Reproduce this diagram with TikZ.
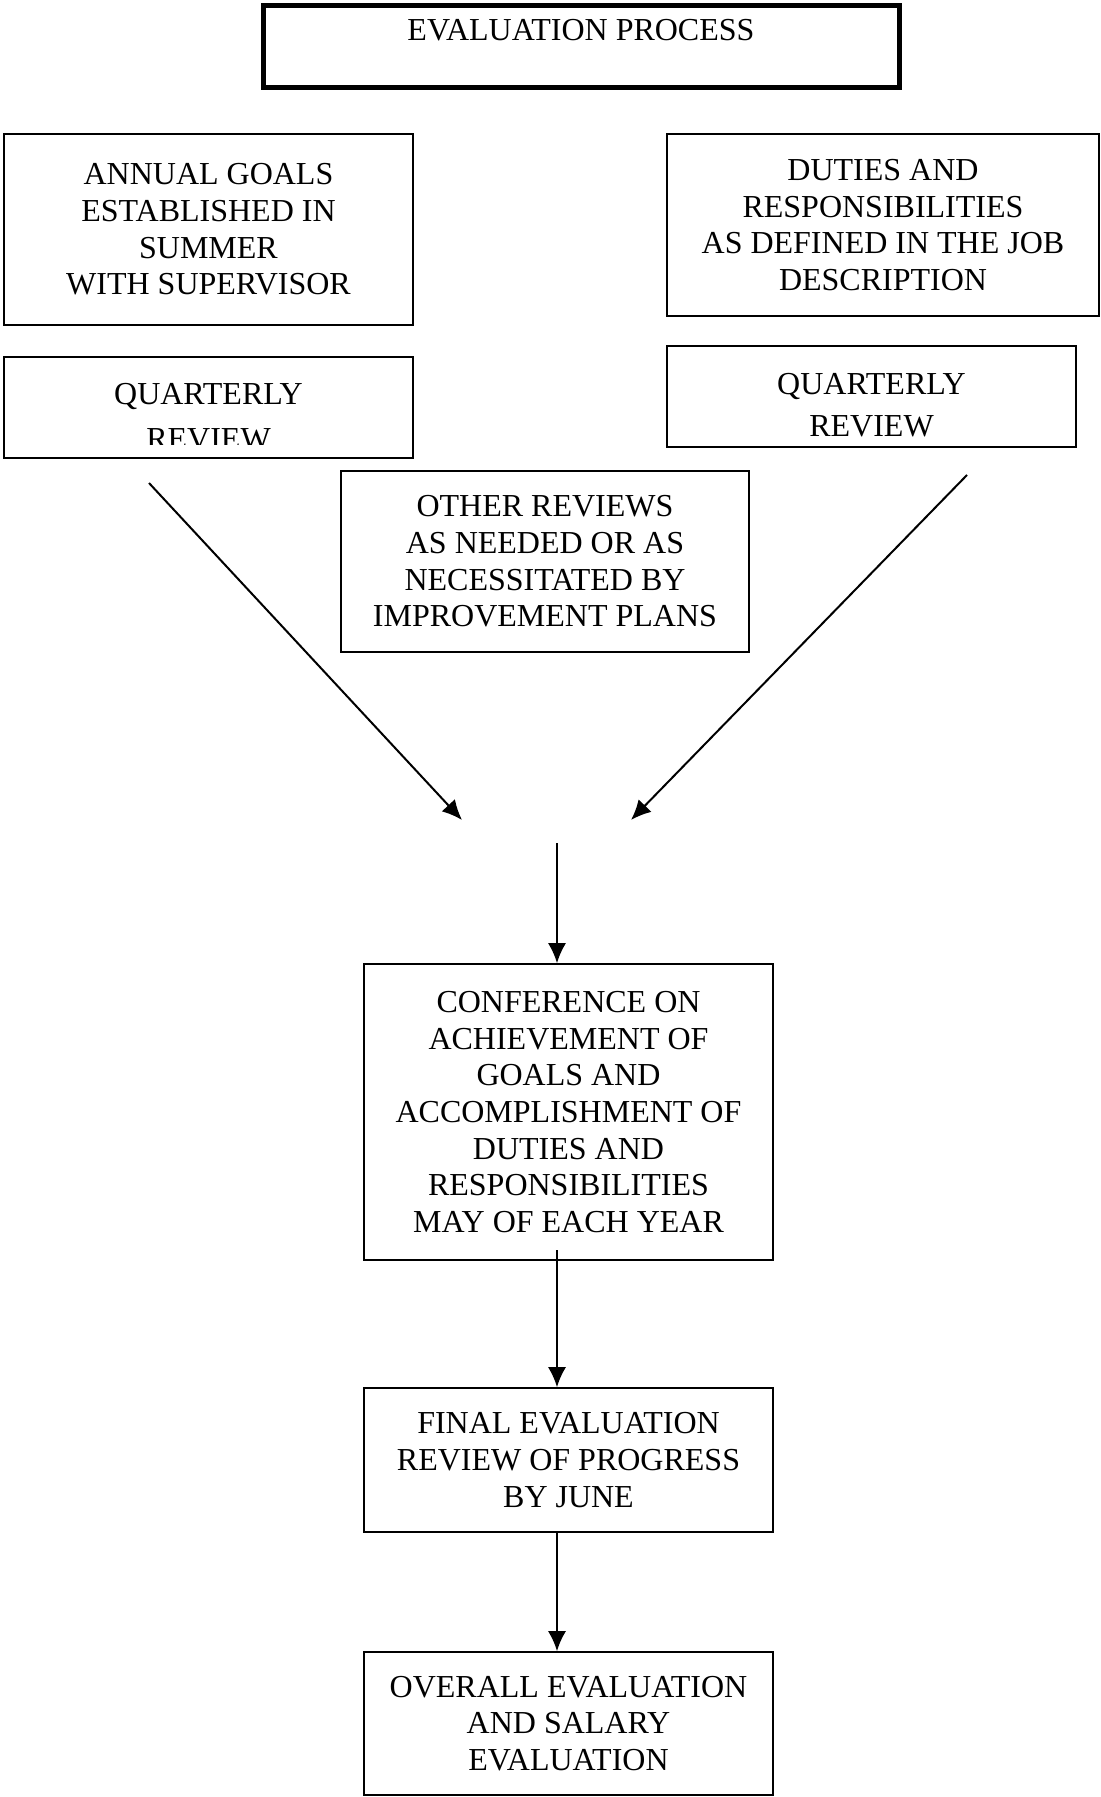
\documentclass[tikz,border=0pt]{standalone}
\usepackage{fontspec}
\setmainfont{Liberation Serif}
\usetikzlibrary{arrows.meta}
\begin{document}
\begin{tikzpicture}[x=0.5pt,y=-0.5pt,
  box/.style={draw,line width=0.8pt,rectangle,inner sep=0pt,align=center,
    font=\fontsize{16pt}{18.35pt}\selectfont},
  txt/.style={inner sep=0pt,align=center},
  arr/.style={line width=1pt,-{Latex[length=10pt,width=9pt]}}]
\useasboundingbox (0,0) rectangle (1100,1797);
% title
\node[draw,line width=2.5pt,rectangle,minimum width=318pt,minimum height=41.25pt] (title) at (581,46.75) {};
\node[txt,font=\fontsize{16pt}{18.35pt}\selectfont] (titletext) at (581,30) {EVALUATION PROCESS};
% left column
\node[box,minimum width=204.5pt,minimum height=95.5pt] (annual) at (208.5,229.5)
  {ANNUAL GOALS\\ESTABLISHED IN\\SUMMER\\WITH SUPERVISOR};
\node[box,minimum width=204.5pt,minimum height=50.5pt] (qleft) at (208.5,407.5) {};
\begin{scope}
\clip (6,359) rectangle (411,444);
\node[txt,font=\fontsize{16pt}{22.5pt}\selectfont] (qlefttext) at (208.5,417) {QUARTERLY\\REVIEW};
\end{scope}
% right column
\node[box,minimum width=216pt,minimum height=91pt] (duties) at (883,225)
  {DUTIES AND\\RESPONSIBILITIES\\AS DEFINED IN THE JOB\\DESCRIPTION};
\node[box,minimum width=204.5pt,minimum height=50.5pt] (qright) at (871.5,396.5) {};
\node[txt,font=\fontsize{16pt}{21pt}\selectfont] (qrighttext) at (871.5,405) {QUARTERLY\\REVIEW};
% middle
\node[box,minimum width=204pt,minimum height=90.5pt] (other) at (545,561.5)
  {OTHER REVIEWS\\AS NEEDED OR AS\\NECESSITATED BY\\IMPROVEMENT PLANS};
\node[box,minimum width=204.5pt,minimum height=148pt] (conf) at (568.5,1112)
  {CONFERENCE ON\\ACHIEVEMENT OF\\GOALS AND\\ACCOMPLISHMENT OF\\DUTIES AND\\RESPONSIBILITIES\\MAY OF EACH YEAR};
\node[box,minimum width=204.5pt,minimum height=72pt] (final) at (568.5,1460)
  {FINAL EVALUATION\\REVIEW OF PROGRESS\\BY JUNE};
\node[box,minimum width=204.5pt,minimum height=71.5pt] (overall) at (568.5,1723.5)
  {OVERALL EVALUATION\\AND SALARY\\EVALUATION};
% connectors
\coordinate (la1) at (149,483);
\coordinate (la2) at (462,820);
\coordinate (ra1) at (967,475);
\coordinate (ra2) at (631,820);
\coordinate (va1) at (557,843);
\coordinate (cb) at (557,1250);
\draw[arr] (la1) -- (la2);
\draw[arr] (ra1) -- (ra2);
\draw[arr] (va1) -- (va1 |- conf.north);
\draw[arr] (cb) -- (cb |- final.north);
\draw[arr] (cb |- final.south) -- (cb |- overall.north);
\end{tikzpicture}
\end{document}
